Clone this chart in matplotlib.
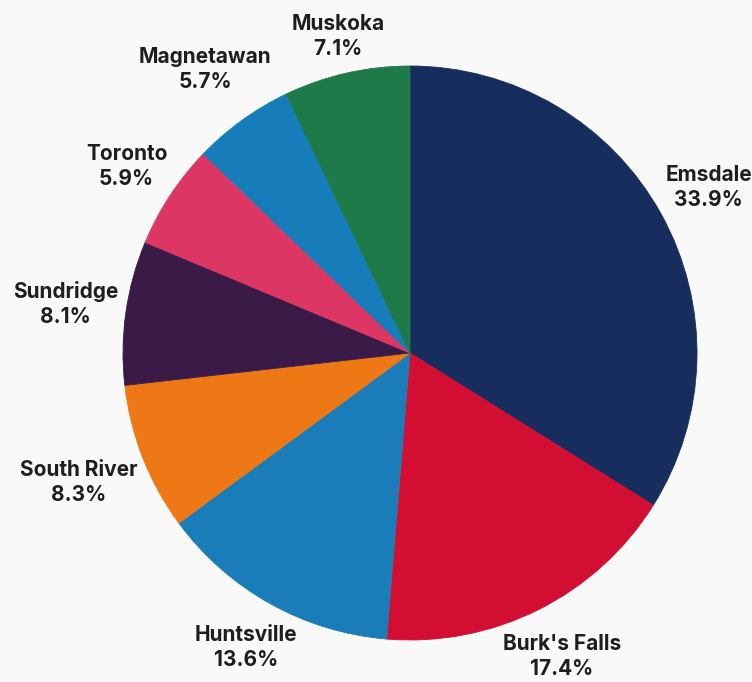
import numpy as np
import matplotlib.pyplot as plt

plt.rcParams['font.family'] = ['Inter', 'DejaVu Sans']

towns = ["Emsdale", "Burk's Falls", "Huntsville", "South River",
         "Sundridge", "Toronto", "Magnetawan", "Muskoka"]
shares = [33.9, 17.4, 13.6, 8.3, 8.1, 5.9, 5.7, 7.1]
colors = ["#172d5e", "#d20f32", "#1a7db9", "#ef7816",
          "#3a1a46", "#dc3764", "#167cba", "#1e7a48"]

W, H, DPI = 752, 682, 100
CX, CY, R = 410, 329, 287  # pie centre / radius in pixels (from bottom-left)

fig = plt.figure(figsize=(W / DPI, H / DPI), dpi=DPI)
fig.patch.set_facecolor("#f9f9f9")
ax = fig.add_axes([0, 0, 1, 1])

labels = [f"{t}\n{s:.1f}%" for t, s in zip(towns, shares)]
wedges, texts = ax.pie(shares, colors=colors, startangle=90, counterclock=False,
                       labels=labels, labeldistance=1.0, radius=1.0,
                       textprops=dict(fontsize=15, fontweight="bold",
                                      color="#1e1e1e", ha="center", va="center",
                                      linespacing=1.3),
                       frame=True)
ax.set_xlim(-CX / R, (W - CX) / R)
ax.set_ylim(-CY / R, (H - CY) / R)
ax.axis("off")

# same-colour outline hides the antialiasing seams between slices
for w, col in zip(wedges, colors):
    w.set_edgecolor(col)
    w.set_linewidth(0.6)

# push each label out so its box sits just outside the rim
fig.canvas.draw()
renderer = fig.canvas.get_renderer()
for w, t in zip(wedges, texts):
    mid = np.deg2rad((w.theta1 + w.theta2) / 2)
    c, s = np.cos(mid), np.sin(mid)
    bb = t.get_window_extent(renderer)
    hw, hh = bb.width / 2 / R, bb.height / 2 / R
    d = 1.02 + hw * abs(c) + hh * abs(s)
    t.set_position((d * c, d * s))

fig.savefig("out.png", dpi=DPI, facecolor=fig.get_facecolor())
